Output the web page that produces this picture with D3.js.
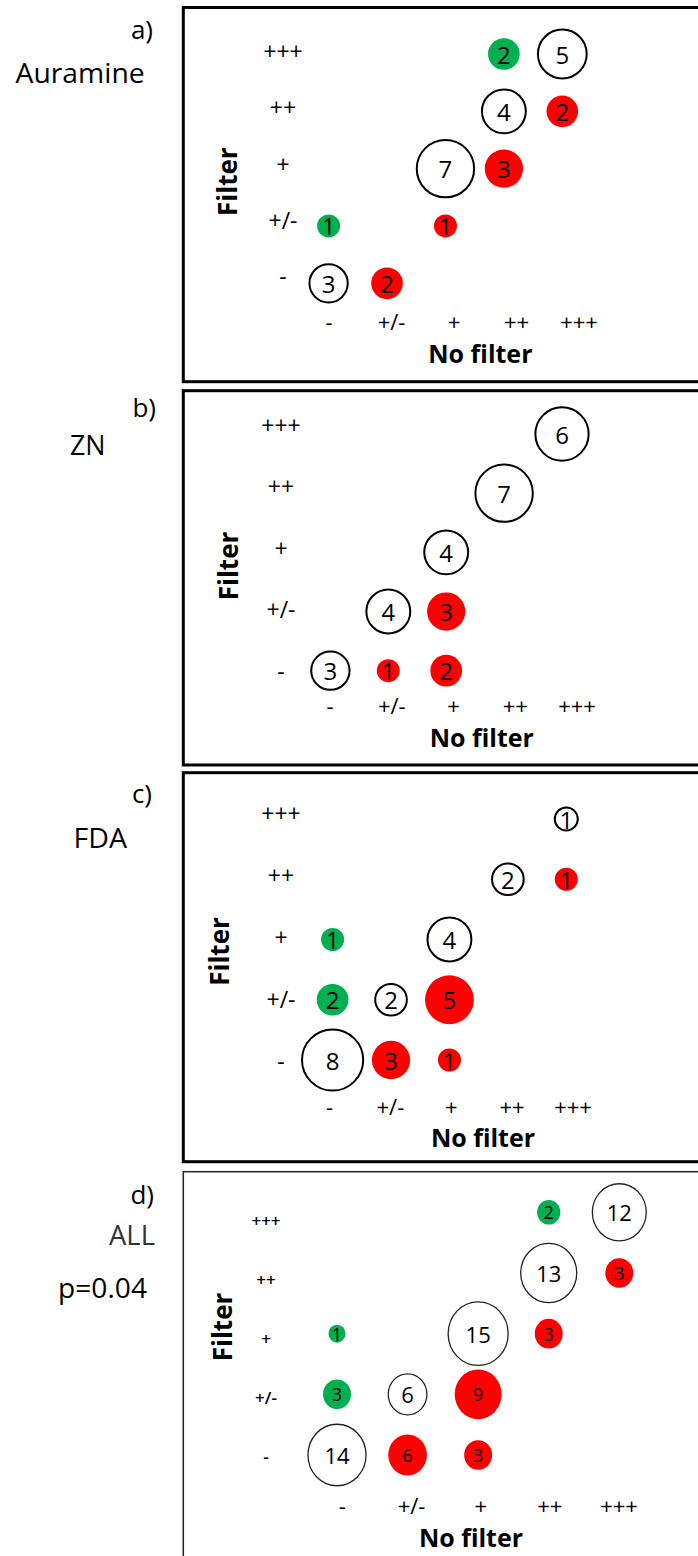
<!DOCTYPE html>
<html>
<head>
<meta charset="utf-8">
<script src="https://cdn.jsdelivr.net/npm/d3@7"></script>
<style>
  html, body { margin: 0; padding: 0; background: #fff; }
  svg { display: block; font-family: "Open Sans", "Noto Sans", sans-serif; }
</style>
</head>
<body>
<div id="chart"></div>
<script>
// grading levels, used on both axes
const LEVELS = ["-", "+/-", "+", "++", "+++"];

// [no filter grade, filter grade, count]
const auramineCells = [
    ["++", "+++", 2], ["+++", "+++", 5],
    ["++", "++", 4], ["+++", "++", 2],
    ["+", "+", 7], ["++", "+", 3],
    ["-", "+/-", 1], ["+", "+/-", 1],
    ["-", "-", 3], ["+/-", "-", 2]
];
const znCells = [
    ["+++", "+++", 6],
    ["++", "++", 7],
    ["+", "+", 4],
    ["+/-", "+/-", 4], ["+", "+/-", 3],
    ["-", "-", 3], ["+/-", "-", 1], ["+", "-", 2]
];
const fdaCells = [
    ["+++", "+++", 1],
    ["++", "++", 2], ["+++", "++", 1],
    ["-", "+", 1], ["+", "+", 4],
    ["-", "+/-", 2], ["+/-", "+/-", 2], ["+", "+/-", 5],
    ["-", "-", 8], ["+/-", "-", 3], ["+", "-", 1]
];
const allCells = [
    ["++", "+++", 2], ["+++", "+++", 12],
    ["++", "++", 13], ["+++", "++", 3],
    ["-", "+", 1], ["+", "+", 15], ["++", "+", 3],
    ["-", "+/-", 3], ["+/-", "+/-", 6], ["+", "+/-", 9],
    ["-", "-", 14], ["+/-", "-", 6], ["+", "-", 3]
];

const GREEN = "#00b050", RED = "#ff0000";

// page layout of the four panels
const panels = [
    { tag: "a)", name: "Auramine", cells: auramineCells,
      top: 7.5, bottom: 381.7, frameW: 3, small: false,
      col: [328.6, 562.3], row: [283.3, 54], xTick: [329, 579], xTickY: 321,
      yTick: [276, 51], yTickX: 283, filterX: 237, filterY: 181.7,
      noFilterX: 480.4, noFilterY: 363.3,
      tagX: 153, tagY: 39, nameX: 15.6, nameY: 83, nameW: 129 },
    { tag: "b)", name: "ZN", cells: znCells,
      top: 390.7, bottom: 765, frameW: 3, small: false,
      col: [330.4, 562], row: [670.7, 434], xTick: [330, 577], xTickY: 705,
      yTick: [670.7, 425], yTickX: 281, filterX: 238, filterY: 566,
      noFilterX: 481.8, noFilterY: 746.7,
      tagX: 156, tagY: 416.7, nameX: 70, nameY: 455, nameW: 35.5 },
    { tag: "c)", name: "FDA", cells: fdaCells,
      top: 772.7, bottom: 1161.7, frameW: 3, small: false,
      col: [332.6, 566.3], row: [1060, 819], xTick: [329.5, 573], xTickY: 1105.5,
      yTick: [1060.7, 812.7], yTickX: 281, filterX: 229.3, filterY: 951.5,
      noFilterX: 483, noFilterY: 1146.7,
      tagX: 152, tagY: 803.3, nameX: 73.5, nameY: 848, nameW: 53.5 },
    { tag: "d)", name: "ALL", cells: allCells, note: "p=0.04",
      top: 1171.7, bottom: 1600, frameW: 1.5, small: true,
      col: [337, 619.3], row: [1455, 1212.3], xTick: [342.4, 619], xTickY: 1505,
      yTick: [1456.7, 1220], yTickX: 266, filterX: 231.5, filterY: 1327,
      noFilterX: 471, noFilterY: 1546.7,
      tagX: 154, tagY: 1204.3, nameX: 109, nameY: 1245, nameW: 46,
      noteX: 58, noteY: 1298.3, noteW: 89 }
];

const W = 698, H = 1556;
const svg = d3.select("#chart").append("svg")
    .attr("width", W)
    .attr("height", H);

const rSmall = d3.scaleSqrt().domain([1, 8]).range([11.5, 30.6]);
const rAll = d3.scaleSqrt().domain([1, 15]).range([8.5, 30]);

panels.forEach(p => {
    const g = svg.append("g");

    // frame (open to the right, runs off the page)
    g.append("rect")
        .attr("x", 183.3)
        .attr("y", p.top)
        .attr("width", 700)
        .attr("height", p.bottom - p.top)
        .attr("fill", "none")
        .attr("stroke", p.small ? "#222" : "#000")
        .attr("stroke-width", p.frameW);

    const x = d3.scalePoint().domain(LEVELS).range(p.col);
    const y = d3.scalePoint().domain(LEVELS).range(p.row);
    const xt = d3.scalePoint().domain(LEVELS).range(p.xTick);
    const yt = d3.scalePoint().domain(LEVELS).range(p.yTick);
    const r = p.small ? rAll : rSmall;
    const aspect = p.small ? 1.06 : 1;

    // tick labels
    g.selectAll(null)
        .data(LEVELS)
        .enter()
        .append("text")
        .attr("x", d => xt(d))
        .attr("y", p.xTickY)
        .attr("text-anchor", "middle")
        .attr("dominant-baseline", "central")
        .attr("font-size", 22)
        .attr("fill", "#000")
        .text(d => d);

    g.selectAll(null)
        .data(LEVELS)
        .enter()
        .append("text")
        .attr("x", p.yTickX)
        .attr("y", d => yt(d))
        .attr("text-anchor", "middle")
        .attr("dominant-baseline", "central")
        .attr("font-size", p.small ? 17 : 23)
        .attr("font-weight", p.small ? 600 : 400)
        .attr("fill", "#000")
        .text(d => d);

    // axis titles
    g.append("text")
        .attr("transform", `translate(${p.filterX},${p.filterY}) rotate(-90)`)
        .attr("text-anchor", "middle")
        .attr("font-size", 26)
        .attr("font-weight", 700)
        .text("Filter");

    g.append("text")
        .attr("x", p.noFilterX)
        .attr("y", p.noFilterY)
        .attr("text-anchor", "middle")
        .attr("font-size", 25)
        .attr("font-weight", 700)
        .text("No filter");

    // panel tag and method name
    g.append("text")
        .attr("x", p.tagX)
        .attr("y", p.tagY)
        .attr("text-anchor", "end")
        .attr("font-size", 26)
        .text(p.tag);

    g.append("text")
        .attr("x", p.nameX)
        .attr("y", p.nameY)
        .attr("font-size", 28)
        .attr("fill", p.small ? "#333" : "#000")
        .attr("textLength", p.nameW)
        .attr("lengthAdjust", "spacingAndGlyphs")
        .text(p.name);

    if (p.note) {
        g.append("text")
            .attr("x", p.noteX)
            .attr("y", p.noteY)
            .attr("font-size", 28)
            .attr("textLength", p.noteW)
            .attr("lengthAdjust", "spacingAndGlyphs")
            .text(p.note);
    }

    // bubbles: white on the diagonal, green if filter grade is higher, red if lower
    const kind = d => {
        const diff = LEVELS.indexOf(d[1]) - LEVELS.indexOf(d[0]);
        return diff === 0 ? "same" : (diff > 0 ? "up" : "down");
    };

    const cell = g.selectAll(null)
        .data(p.cells)
        .enter()
        .append("g")
        .attr("transform", d => `translate(${x(d[0])},${y(d[1])})`);

    cell.append("ellipse")
        .attr("rx", d => r(d[2]))
        .attr("ry", d => r(d[2]) * aspect)
        .attr("fill", d => kind(d) === "same" ? "#fff" : (kind(d) === "up" ? GREEN : RED))
        .attr("stroke", d => kind(d) === "same" ? (p.small ? "#222" : "#000") : "none")
        .attr("stroke-width", p.small ? 1.3 : 2);

    cell.append("text")
        .attr("text-anchor", "middle")
        .attr("dominant-baseline", "central")
        .attr("font-size", d => p.small ? (kind(d) === "same" ? 22 : 18) : 24)
        .attr("fill", "#000")
        .text(d => d[2]);
});
</script>
</body>
</html>
